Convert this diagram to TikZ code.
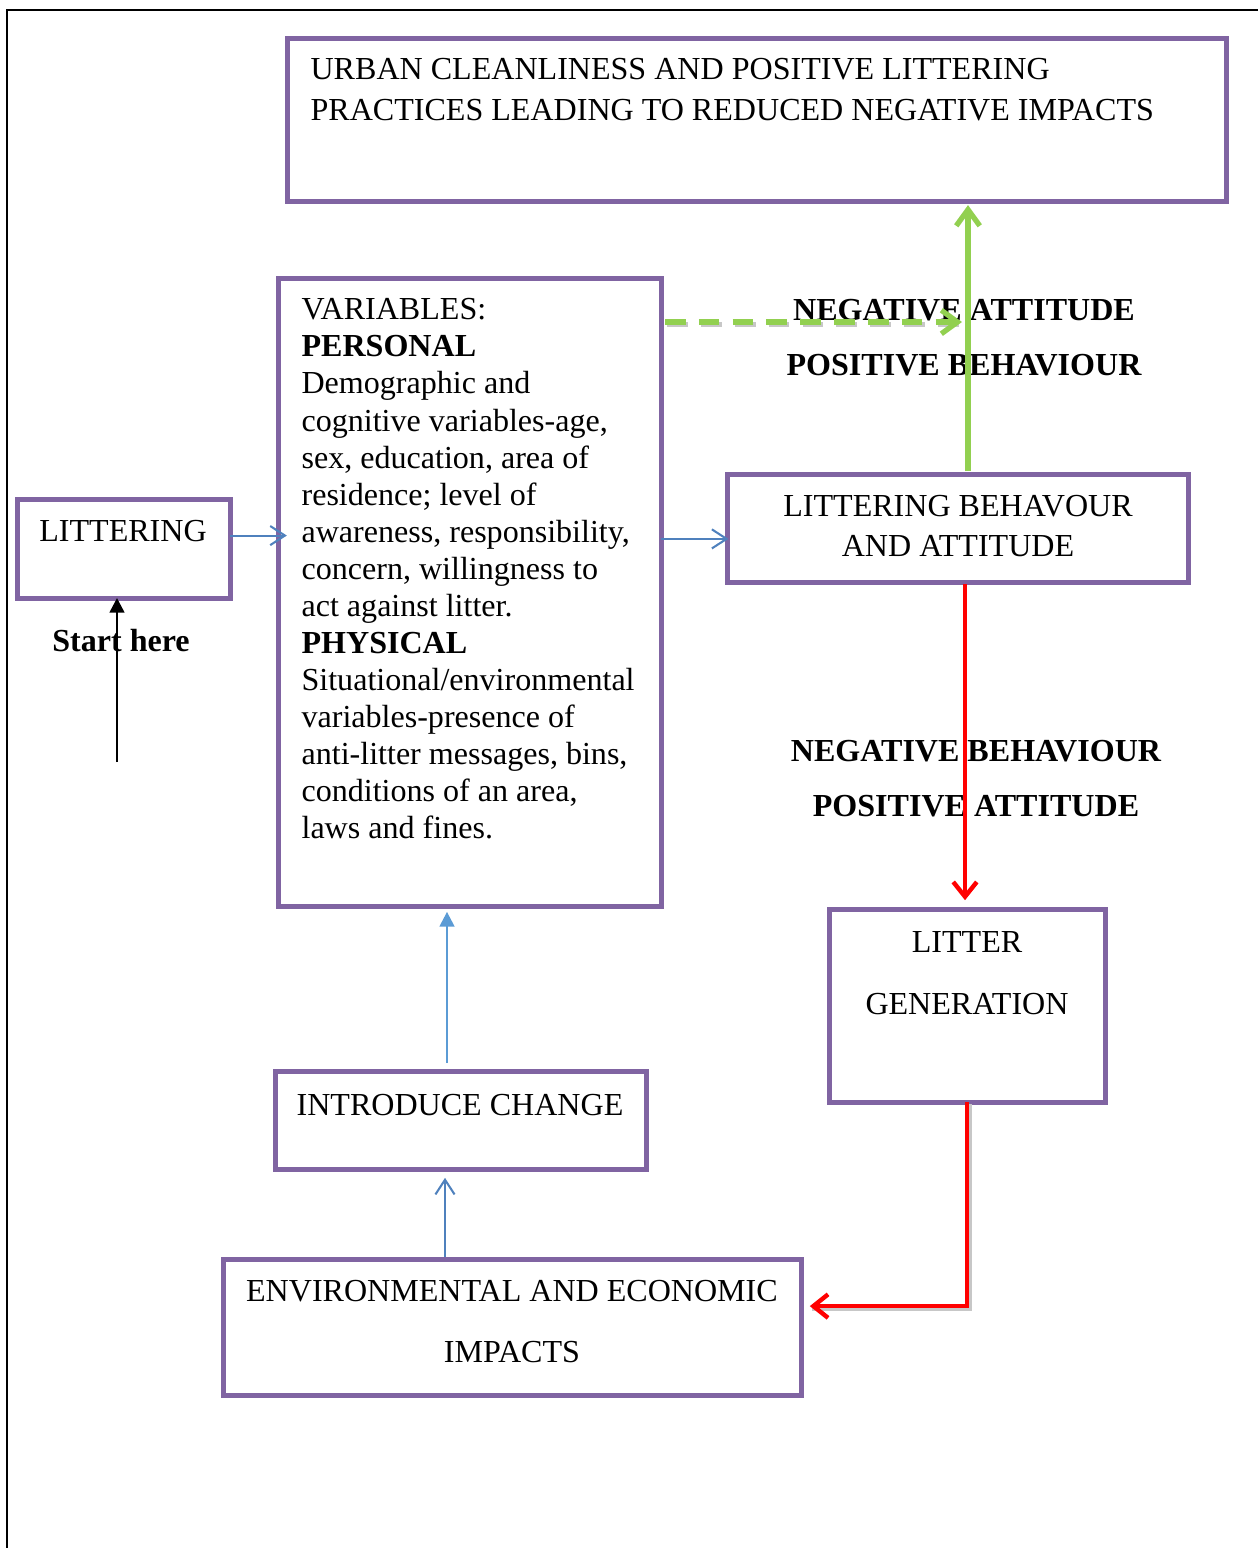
\documentclass[tikz,border=0pt]{standalone}
\usepackage{fontspec}
\setmainfont{Liberation Serif}
\usetikzlibrary{arrows.meta}
\definecolor{boxpurple}{HTML}{8064A2}
\definecolor{lineblue}{HTML}{4F81BD}
\definecolor{lightblue}{HTML}{5B9BD5}
\definecolor{arrowgreen}{HTML}{92D050}
\newcommand{\pxu}{0.34pt}

\begin{document}
\begin{tikzpicture}[x=0.34pt, y=-0.34pt,
    box/.style={draw=boxpurple, line width=1.7pt, inner sep=0pt, outer sep=0pt},
    txt/.style={inner sep=0pt, font=\fontsize{10.9}{12.6}\selectfont},
    lbl/.style={inner sep=0pt, align=center, font=\fontsize{10.9}{18.7}\selectfont\bfseries},
    blueline/.style={draw=lineblue, line width=0.7pt, -{Straight Barb[length=5pt,width=6.5pt]}},
    bluefill/.style={draw=lightblue, fill=lightblue, line width=0.8pt, -{Triangle[length=5pt,width=5pt]}},
    greenline/.style={draw=arrowgreen, line width=1.8pt, -{Straight Barb[length=5.5pt,width=8pt]}},
    redline/.style={draw=red, line width=1.5pt, -{Straight Barb[length=5pt,width=8pt]}},
    shade/.style={draw=black!22, line width=1.6pt, transform canvas={xshift=0.8pt,yshift=-0.8pt}}]
    % 1. Khung trang
    \useasboundingbox (0,0) rectangle (1258,1548);
    \draw[line width=1pt] (7,1548) -- (7,10) -- (1258,10);

    % 2. Cac hop
    \node[box, minimum width=939*\pxu, minimum height=163*\pxu] (urban) at (756.5,119.5) {};
    \node[box, minimum width=383*\pxu, minimum height=628*\pxu] (vars) at (469.5,592) {};
    \node[box, minimum width=213*\pxu, minimum height=99*\pxu] (litbox) at (123.5,548.5) {};
    \node[box, minimum width=461*\pxu, minimum height=108*\pxu] (behav) at (957.5,528) {};
    \node[box, minimum width=276*\pxu, minimum height=193*\pxu] (litgen) at (967,1005.5) {};
    \node[box, minimum width=371*\pxu, minimum height=98*\pxu] (intro) at (460.5,1120) {};
    \node[box, minimum width=578*\pxu, minimum height=136*\pxu] (env) at (512,1327) {};

    % 3. Chu trong hop
    \node[txt, anchor=north west, align=left, font=\fontsize{10.9}{13.9}\selectfont] (urbantext) at (310,58)
        {URBAN CLEANLINESS AND POSITIVE LITTERING\\PRACTICES LEADING TO REDUCED NEGATIVE IMPACTS};
    \node[txt, anchor=north west, align=left] (varstext) at (301,298)
        {VARIABLES:\\
        \textbf{PERSONAL}\\
        Demographic and\\
        cognitive variables-age,\\
        sex, education, area of\\
        residence; level of\\
        awareness, responsibility,\\
        concern, willingness to\\
        act against litter.\\
        \textbf{PHYSICAL}\\
        Situational/environmental\\
        variables-presence of\\
        anti-litter messages, bins,\\
        conditions of an area,\\
        laws and fines.};
    \node[txt, anchor=base] (littext) at (123,541) {LITTERING};
    \node[txt, anchor=north, align=center, font=\fontsize{10.9}{13.6}\selectfont] (behavtext) at (958,495)
        {LITTERING BEHAVOUR\\AND ATTITUDE};
    \node[txt, anchor=north, align=center, font=\fontsize{10.9}{21.1}\selectfont] (litgentext) at (967,931)
        {LITTER\\GENERATION};
    \node[txt, anchor=base] (introtext) at (460,1115) {INTRODUCE CHANGE};
    \node[txt, anchor=north, align=center, font=\fontsize{10.9}{20.7}\selectfont] (envtext) at (512,1280)
        {ENVIRONMENTAL AND ECONOMIC\\IMPACTS};

    % 4. Nhan dam
    \node[lbl, anchor=north] (upperlbl) at (964,299) {NEGATIVE ATTITUDE\\POSITIVE BEHAVIOUR};
    \node[lbl, anchor=north] (lowerlbl) at (976,740) {NEGATIVE BEHAVIOUR\\POSITIVE ATTITUDE};
    \node[txt, anchor=base, font=\fontsize{10.9}{12.6}\selectfont\bfseries] (start) at (121,651) {Start here};

    % 5. Mui ten xanh duong
    \draw[blueline, shorten >=-3pt] ([yshift=4.4pt]litbox.east) -- ([yshift=4.4pt]litbox.east -| vars.west);
    \draw[blueline, shorten >=-0.5pt] ([yshift=-3.7pt]behav.west -| vars.east) -- ([yshift=-3.7pt]behav.west);
    \coordinate (introup) at (447,1063);
    \draw[bluefill, shorten >=2pt] (introup) -- (introup |- vars.south);
    \coordinate (envup) at (445,1257);
    \draw[blueline, shorten >=3pt] (envup) -- (envup |- intro.south);

    % 6. Mui ten bat dau
    \coordinate (startfoot) at (117,762);
    \draw[line width=0.9pt, -{Triangle[length=5pt,width=5pt]}] (startfoot) -- (startfoot |- litbox.south);

    % 7. Mui ten xanh la
    \coordinate (greenfoot) at (968,471);
    \draw[greenline, shorten >=1.4pt] (greenfoot) -- (greenfoot |- urban.south);
    \coordinate (dashstart) at (665,322);
    \coordinate (dashend) at (962,322);
    \draw[shade, dash pattern=on 7pt off 4.5pt] (dashstart) -- (dashend);
    \draw[greenline, dash pattern=on 7pt off 4.5pt] (dashstart) -- (dashend);

    % 8. Mui ten do
    \coordinate (redtop) at (965,584);
    \draw[redline, shorten >=3pt] (redtop) -- (redtop |- litgen.north);
    \draw[shade, shorten >=3pt] (litgen.south) |- ([yshift=7.1pt]env.east);
    \draw[redline, shorten >=3pt] (litgen.south) |- ([yshift=7.1pt]env.east);
\end{tikzpicture}
\end{document}
